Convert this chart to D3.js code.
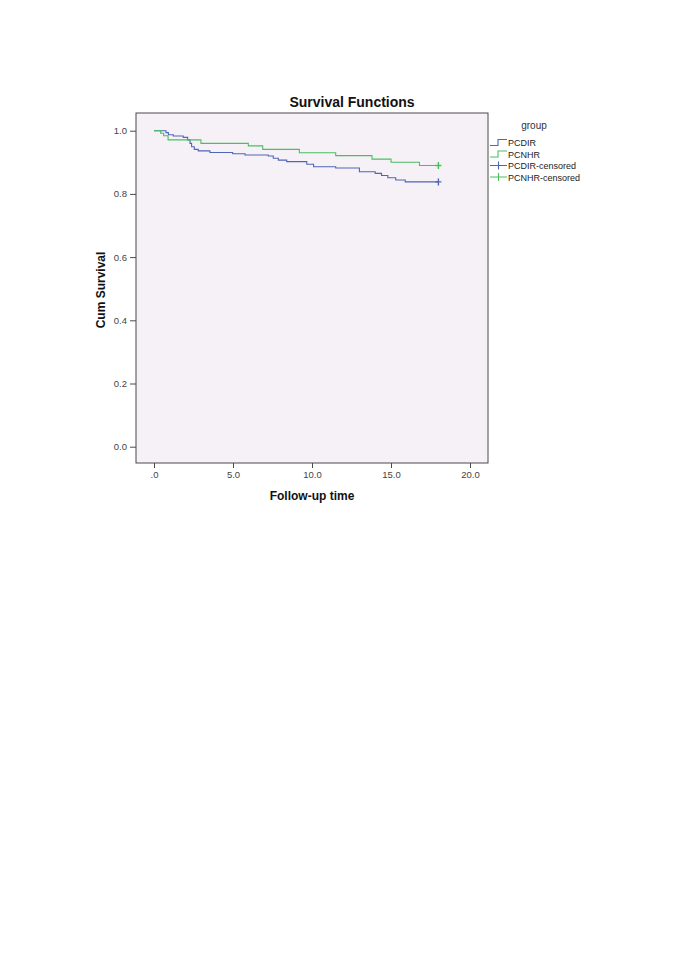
<!DOCTYPE html>
<html>
<head>
<meta charset="utf-8">
<script src="https://cdn.jsdelivr.net/npm/d3@7"></script>
<style>
  body { margin: 0; background: #fff; }
  svg { display: block; font-family: "Liberation Sans", Arial, sans-serif; }
</style>
</head>
<body>
<svg id="chart" width="685" height="968"></svg>
<script>
// survival steps (time, cum survival)
const pcdirTime = [0, 0.76, 0.91, 1.22, 1.85, 2.13, 2.28, 2.38, 2.55, 2.8, 3.54, 4.98, 5.76, 7.23, 7.55, 7.87, 8.4, 9.67, 10.1, 11.5, 13.0, 14.0, 14.4, 14.8, 15.3, 15.9];
const pcdirSurv = [1.0, 0.994, 0.987, 0.983, 0.979, 0.971, 0.960, 0.949, 0.941, 0.936, 0.931, 0.927, 0.923, 0.920, 0.913, 0.907, 0.902, 0.894, 0.886, 0.882, 0.870, 0.865, 0.858, 0.851, 0.844, 0.838];
const pcnhrTime = [0, 0.42, 0.61, 0.89, 2.97, 5.97, 6.88, 9.2, 11.5, 13.8, 15.0, 16.8];
const pcnhrSurv = [1.0, 0.992, 0.984, 0.971, 0.960, 0.952, 0.941, 0.930, 0.921, 0.910, 0.900, 0.890];
const censorTime = [18.0, 18.0];
const groups = ['PCDIR', 'PCNHR'];
const legendLabels = ['PCDIR', 'PCNHR', 'PCDIR-censored', 'PCNHR-censored'];
const xTicks = [0, 5, 10, 15, 20];
const yTicks = [0, 0.2, 0.4, 0.6, 0.8, 1.0];

const colors = {'PCDIR': '#4f66b6', 'PCNHR': '#48c060'};

const svg = d3.select('#chart');
const frame = {left: 136, right: 488, top: 113, bottom: 463};

const x = d3.scaleLinear().domain([0, 20]).range([154, 470]);
const y = d3.scaleLinear().domain([0, 1]).range([446.7, 130.7]);

// plot background + border
svg.append('rect')
    .attr('x', frame.left).attr('y', frame.top)
    .attr('width', frame.right - frame.left).attr('height', frame.bottom - frame.top)
    .attr('fill', '#f6f1f6').attr('stroke', '#4a4a4a').attr('stroke-width', 1);

// axes
const yAxis = svg.append('g')
    .attr('transform', `translate(${frame.left},0)`)
    .call(d3.axisLeft(y).tickValues(yTicks).tickFormat(d3.format('.1f')).tickSize(6).tickPadding(3));
const xAxis = svg.append('g')
    .attr('transform', `translate(0,${frame.bottom})`)
    .call(d3.axisBottom(x).tickValues(xTicks)
        .tickFormat(d => d === 0 ? '.0' : d.toFixed(1)).tickSize(5).tickPadding(3));
[yAxis, xAxis].forEach(a => {
    a.select('.domain').remove();
    a.selectAll('line').attr('stroke', '#4a4a4a');
    a.selectAll('text').attr('fill', '#444').style('font-size', '9.5px');
});

// survival curves
const series = [
    {name: 'PCDIR', t: pcdirTime, s: pcdirSurv, end: censorTime[0]},
    {name: 'PCNHR', t: pcnhrTime, s: pcnhrSurv, end: censorTime[1]}
];
const line = d3.line().x(d => x(d[0])).y(d => y(d[1])).curve(d3.curveStepAfter);

series.forEach(sr => {
    let pts = sr.t.map((t, i) => [t, sr.s[i]]);
    pts.push([sr.end, sr.s[sr.s.length - 1]]);
    svg.append('path')
        .attr('d', line(pts))
        .attr('fill', 'none')
        .attr('stroke', colors[sr.name])
        .attr('stroke-width', 1.1);
    // censored mark
    let cx = x(sr.end), cy = y(sr.s[sr.s.length - 1]);
    svg.append('path')
        .attr('d', `M${cx},${cy - 3.5}V${cy + 3.5}M${cx - 3},${cy}H${cx + 3}`)
        .attr('stroke', colors[sr.name])
        .attr('stroke-width', 1.4);
});

// titles
svg.append('text')
    .attr('x', 352).attr('y', 107)
    .attr('text-anchor', 'middle')
    .style('font-size', '14px').style('font-weight', 'bold')
    .attr('fill', '#111')
    .text('Survival Functions');
svg.append('text')
    .attr('x', 312).attr('y', 500)
    .attr('text-anchor', 'middle')
    .style('font-size', '12px').style('font-weight', 'bold')
    .attr('fill', '#111')
    .text('Follow-up time');
svg.append('text')
    .attr('transform', 'translate(105,290) rotate(-90)')
    .attr('text-anchor', 'middle')
    .style('font-size', '12px').style('font-weight', 'bold')
    .attr('fill', '#111')
    .text('Cum Survival');

// legend
const lg = svg.append('g');
lg.append('text')
    .attr('x', 534).attr('y', 129)
    .attr('text-anchor', 'middle')
    .style('font-size', '10px')
    .attr('fill', '#333')
    .text('group');
legendLabels.forEach((lab, i) => {
    let yy = 142.5 + i * 11.5, c = colors[groups[i % 2]];
    if (i < 2) {
        lg.append('path')
            .attr('d', `M490,${yy + 3}H498V${yy - 3}H507`)
            .attr('fill', 'none').attr('stroke', c).attr('stroke-width', 1.1);
    } else {
        lg.append('path')
            .attr('d', `M490,${yy}H507M498.5,${yy - 4}V${yy + 4}`)
            .attr('stroke', c).attr('stroke-width', 1.1);
    }
    lg.append('text')
        .attr('x', 508).attr('y', yy + 3.5)
        .style('font-size', '9px')
        .attr('fill', '#222')
        .text(lab);
});
</script>
</body>
</html>
